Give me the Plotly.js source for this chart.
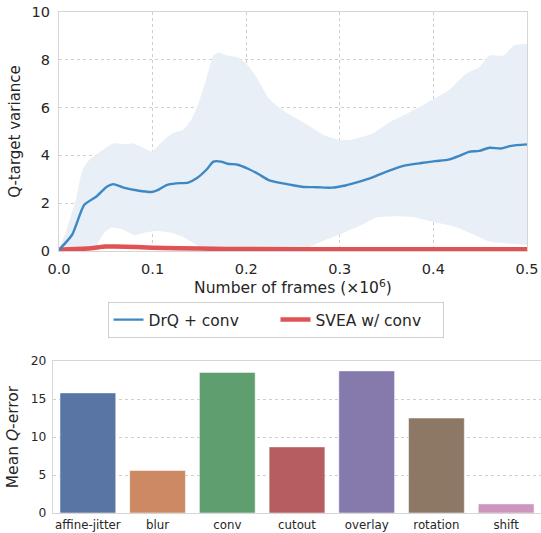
<!DOCTYPE html>
<html>
<head>
<meta charset="utf-8">
<script src="https://cdn.plot.ly/plotly-3.0.1.min.js"></script>
<style>html,body{margin:0;padding:0;background:#fff;}#chart{width:541px;height:533px;}</style>
</head>
<body>
<div id="chart"></div>
<script>
// ---- Top panel: Q-target variance over training ----
const meanX = [0.0, 0.014, 0.027, 0.04, 0.051, 0.058, 0.069, 0.084, 0.099, 0.106, 0.115, 0.125, 0.138, 0.147, 0.158, 0.165, 0.173, 0.18, 0.191, 0.202, 0.213, 0.224, 0.235, 0.25, 0.261, 0.276, 0.291, 0.306, 0.32, 0.335, 0.35, 0.368, 0.387, 0.402, 0.416, 0.427, 0.438, 0.449, 0.46, 0.472, 0.483, 0.5];
const drqMean = [0.05, 0.68, 1.93, 2.28, 2.69, 2.8, 2.65, 2.53, 2.47, 2.56, 2.76, 2.83, 2.86, 3.04, 3.42, 3.74, 3.74, 3.65, 3.61, 3.44, 3.22, 2.97, 2.86, 2.75, 2.68, 2.67, 2.65, 2.74, 2.89, 3.08, 3.32, 3.56, 3.68, 3.76, 3.82, 3.97, 4.15, 4.19, 4.32, 4.29, 4.4, 4.46];

const upperX = [0.0, 0.008, 0.018, 0.025, 0.032, 0.044, 0.058, 0.069, 0.079, 0.088, 0.099, 0.11, 0.121, 0.132, 0.141, 0.149, 0.158, 0.165, 0.171, 0.18, 0.191, 0.202, 0.213, 0.224, 0.239, 0.254, 0.269, 0.283, 0.3, 0.313, 0.335, 0.354, 0.372, 0.398, 0.416, 0.435, 0.449, 0.46, 0.475, 0.486, 0.5];
const drqUpper = [0.05, 0.89, 2.14, 3.39, 3.8, 4.15, 4.5, 4.47, 4.5, 4.36, 4.15, 4.57, 4.92, 5.06, 5.47, 6.17, 7.28, 8.18, 8.29, 8.18, 8.11, 7.76, 7.14, 6.38, 5.89, 5.54, 5.19, 4.85, 4.64, 4.67, 4.92, 5.4, 5.75, 6.31, 6.72, 7.42, 7.69, 8.18, 8.18, 8.6, 8.67];

const lowerX = [0.0, 0.015, 0.029, 0.04, 0.048, 0.056, 0.068, 0.081, 0.093, 0.104, 0.118, 0.132, 0.147, 0.158, 0.2, 0.254, 0.269, 0.287, 0.306, 0.324, 0.339, 0.361, 0.38, 0.402, 0.424, 0.442, 0.46, 0.483, 0.5];
const drqLower = [0.0, 0.0, 0.02, 0.25, 0.75, 0.98, 0.9, 0.67, 0.78, 0.84, 0.78, 0.6, 0.25, 0.0, 0.0, 0.0, 0.2, 0.5, 0.8, 1.1, 1.4, 1.45, 1.4, 1.2, 1.0, 0.7, 0.4, 0.3, 0.25];

const sveaX = [0.0, 0.03, 0.05, 0.06, 0.1, 0.15, 0.2, 0.3, 0.4, 0.5];
const sveaMean = [0.05, 0.1, 0.19, 0.19, 0.14, 0.1, 0.08, 0.07, 0.07, 0.07];

// ---- Bottom panel: Mean Q-error per augmentation ----
const augCategories = ["affine-jitter", "blur", "conv", "cutout", "overlay", "rotation", "shift"];
const meanQError = [15.8, 5.6, 18.5, 8.7, 18.7, 12.5, 1.2];
const barColors = ["#5875a4", "#cc8963", "#5f9e6e", "#b55d60", "#857aab", "#8d7866", "#d095bf"];

const FONT = "DejaVu Sans, sans-serif";
const TXT = "#262626";
const W = 541, H = 533;

const traces = [
  {x: lowerX, y: drqLower, type: "scatter", mode: "lines", line: {width: 0, shape: "spline", smoothing: 0.5},
   showlegend: false, hoverinfo: "skip", xaxis: "x", yaxis: "y"},
  {x: upperX, y: drqUpper, type: "scatter", mode: "lines", line: {width: 0, shape: "spline", smoothing: 0.5},
   fill: "tonexty", fillcolor: "#e8eff6", showlegend: false, hoverinfo: "skip", xaxis: "x", yaxis: "y"},
  {x: sveaX, y: sveaMean, type: "scatter", mode: "lines", name: "SVEA w/ conv",
   line: {color: "#e05253", width: 4.5, shape: "spline", smoothing: 0.8}, xaxis: "x", yaxis: "y", legendrank: 2},
  {x: meanX, y: drqMean, type: "scatter", mode: "lines", name: "DrQ + conv",
   line: {color: "#3d88c4", width: 2.4, shape: "spline", smoothing: 0.6}, xaxis: "x", yaxis: "y", legendrank: 1},
  {x: augCategories, y: meanQError, type: "bar", marker: {color: barColors, line: {color: "rgba(255,255,255,0.5)", width: 1}},
   width: 0.8, showlegend: false, xaxis: "x2", yaxis: "y2"}
];

const gridStyle = {gridcolor: "#cfcfcf", griddash: "dot", gridwidth: 1};
const frame = {showline: true, mirror: true, linecolor: "#d6d6d6", linewidth: 1.2, zeroline: false};

const layout = {
  width: W, height: H,
  margin: {l: 0, r: 0, t: 0, b: 0},
  paper_bgcolor: "#fff", plot_bgcolor: "#fff",
  font: {family: FONT, color: TXT, size: 15},
  showlegend: true,
  legend: {
    orientation: "h", x: 275.5 / W, xanchor: "center", y: 1 - 302 / H, yanchor: "top",
    bordercolor: "#d0d0d0", borderwidth: 1, bgcolor: "#fff",
    font: {family: FONT, size: 15.5, color: TXT}, traceorder: "normal",
    entrywidth: 122, entrywidthmode: "pixels"
  },
  xaxis: Object.assign({
    domain: [59 / W, 527 / W], range: [0, 0.5], dtick: 0.1, tickformat: ".1f",
    showgrid: true, ticks: "outside", ticklen: 4, tickcolor: "rgba(0,0,0,0)",
    tickfont: {size: 14.5, color: TXT},
    title: {text: "Number of frames (×10<sup>6</sup>)", font: {size: 15.5, color: TXT}, standoff: 5},
    anchor: "y"
  }, gridStyle, frame),
  yaxis: Object.assign({
    domain: [1 - 251 / H, 1 - 12 / H], range: [0, 10], dtick: 2,
    showgrid: true, ticks: "outside", ticklen: 5, tickcolor: "rgba(0,0,0,0)",
    tickfont: {size: 14.5, color: TXT},
    title: {text: "Q-target variance", font: {size: 15, color: TXT}, standoff: 7},
    anchor: "x"
  }, gridStyle, frame),
  xaxis2: Object.assign({
    domain: [53 / W, 541 / W], range: [-0.5, 6.5], type: "category",
    showgrid: false, ticks: "outside", ticklen: 1, tickcolor: "rgba(0,0,0,0)",
    tickfont: {size: 11.8, color: TXT}, anchor: "y2"
  }, frame),
  yaxis2: Object.assign({
    domain: [1 - 513 / H, 1 - 361 / H], range: [0, 20], dtick: 5,
    showgrid: true, ticks: "outside", ticklen: 3, tickcolor: "rgba(0,0,0,0)",
    tickfont: {size: 12.3, color: TXT},
    title: {text: "Mean <i>Q</i>-error", font: {size: 15.5, color: TXT}, standoff: 8},
    anchor: "x2"
  }, gridStyle, frame)
};

Plotly.newPlot("chart", traces, layout, {displayModeBar: false, staticPlot: true});
</script>
</body>
</html>
